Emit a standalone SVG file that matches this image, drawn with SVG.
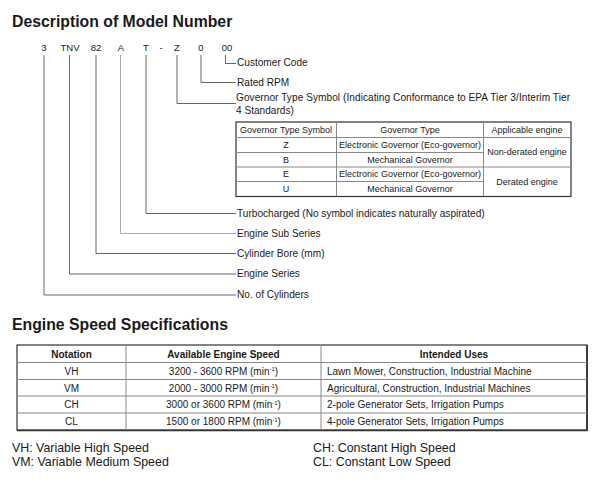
<svg xmlns="http://www.w3.org/2000/svg" width="601" height="498" viewBox="0 0 601 498">
<style>
text{font-family:"Liberation Sans",Arial,Helvetica,sans-serif;fill:#1a1a1a}
.h1{font-size:15.8px;font-weight:bold}
.mn{font-size:9.5px;text-anchor:middle}
.lb{font-size:10.1px}
.t9{font-size:9px}
.t10{font-size:10px}
.c{text-anchor:middle}
.b{font-weight:bold}
.lg{font-size:12.4px}
.ld{fill:none;stroke:#666;stroke-width:1}
.ldl{fill:none;stroke:#aaa;stroke-width:1}
.gl{stroke:#888;stroke-width:1;fill:none}
.ob{stroke:#333;stroke-width:1.2;fill:none}
.sup{font-size:6px}
</style>
<rect width="601" height="498" fill="#fff"/>
<g id="title1"><text class="h1" x="12" y="27">Description of Model Number</text></g>
<g id="model-number">
<text class="mn" x="44" y="50.5">3</text>
<text class="mn" x="70" y="50.5">TNV</text>
<text class="mn" x="96" y="50.5">82</text>
<text class="mn" x="121" y="50.5">A</text>
<text class="mn" x="146" y="50.5">T</text>
<text class="mn" x="161" y="50.5">-</text>
<text class="mn" x="177" y="50.5">Z</text>
<text class="mn" x="201" y="50.5">0</text>
<text class="mn" x="227" y="50.5">00</text>
</g>
<g id="connectors">
<polyline class="ld" points="225.5,55 225.5,63.5 236,63.5"/>
<polyline class="ld" points="201,55 201,82.5 236,82.5"/>
<polyline class="ld" points="177,55 177,103.5 236,103.5"/>
<polyline class="ld" points="146,55 146,213.5 236,213.5"/>
<polyline class="ldl" points="120.5,55 120.5,233.5 236,233.5"/>
<polyline class="ld" points="96,55 96,253.5 236,253.5"/>
<polyline class="ld" points="69.5,55 69.5,274 236,274"/>
<polyline class="ld" points="44,55 44,295 236,295"/>
</g>
<g id="label-customer-code"><text class="lb" x="237" y="66">Customer Code</text></g>
<g id="label-rated-rpm"><text class="lb" x="237" y="85.5">Rated RPM</text></g>
<g id="label-governor"><text class="lb" x="236" y="100.5" textLength="334" lengthAdjust="spacing">Governor Type Symbol (Indicating Conformance to EPA Tier 3/Interim Tier</text><text class="lb" x="236" y="113.5">4 Standards)</text></g>
<g id="governor-table">
<rect class="ob" x="236" y="122" width="335" height="74.5"/>
<line class="gl" x1="236" y1="137.5" x2="571" y2="137.5"/>
<line class="gl" x1="236" y1="152.5" x2="483.5" y2="152.5"/>
<line class="gl" x1="236" y1="167" x2="571" y2="167"/>
<line class="gl" x1="236" y1="181.5" x2="483.5" y2="181.5"/>
<line class="gl" x1="336.5" y1="122" x2="336.5" y2="196.5"/>
<line class="gl" x1="483.5" y1="122" x2="483.5" y2="196.5"/>
<text class="t9 c" x="286" y="132.8">Governor Type Symbol</text>
<text class="t9 c" x="410" y="132.8">Governor Type</text>
<text class="t9 c" x="527" y="132.8">Applicable engine</text>
<text class="t9 c" x="286" y="147.8">Z</text>
<text class="t9 c" x="410" y="147.8">Electronic Governor (Eco-governor)</text>
<text class="t9 c" x="286" y="162.5">B</text>
<text class="t9 c" x="410" y="162.5">Mechanical Governor</text>
<text class="t9 c" x="286" y="177">E</text>
<text class="t9 c" x="410" y="177">Electronic Governor (Eco-governor)</text>
<text class="t9 c" x="286" y="191.5">U</text>
<text class="t9 c" x="410" y="191.5">Mechanical Governor</text>
<text class="t9 c" x="527" y="155">Non-derated engine</text>
<text class="t9 c" x="527" y="184.5">Derated engine</text>
</g>
<g id="label-turbo"><text class="lb" x="237" y="216.5">Turbocharged (No symbol indicates naturally aspirated)</text></g>
<g id="label-sub-series"><text class="lb" x="237" y="236.5">Engine Sub Series</text></g>
<g id="label-bore"><text class="lb" x="237" y="256.5">Cylinder Bore (mm)</text></g>
<g id="label-series"><text class="lb" x="237" y="277">Engine Series</text></g>
<g id="label-cylinders"><text class="lb" x="237" y="298">No. of Cylinders</text></g>
<g id="title2"><text class="h1" x="12" y="329.5">Engine Speed Specifications</text></g>
<g id="speed-table">
<rect class="ob" x="17" y="345" width="570" height="85"/>
<line x1="587" y1="345" x2="587" y2="430.5" stroke="#333" stroke-width="1.8"/>
<line x1="17" y1="430.5" x2="587.5" y2="430.5" stroke="#333" stroke-width="1.6"/>
<line class="gl" x1="17" y1="362.5" x2="587" y2="362.5"/>
<line class="gl" x1="17" y1="379.5" x2="587" y2="379.5"/>
<line class="gl" x1="17" y1="396" x2="587" y2="396"/>
<line class="gl" x1="17" y1="413" x2="587" y2="413"/>
<line class="gl" x1="126" y1="345" x2="126" y2="430"/>
<line class="gl" x1="321" y1="345" x2="321" y2="430"/>
<text class="t10 c b" x="71.5" y="357.5">Notation</text>
<text class="t10 c b" x="223.5" y="357.5">Available Engine Speed</text>
<text class="t10 c b" x="454" y="357.5">Intended Uses</text>
<text class="t10 c" x="71.5" y="374.5">VH</text>
<text class="t10 c" x="223.5" y="374.5">3200 - 3600 RPM (min<tspan class="sup" dy="-3.5">-1</tspan><tspan dy="3.5">)</tspan></text>
<text class="t10" x="327" y="374.5">Lawn Mower, Construction, Industrial Machine</text>
<text class="t10 c" x="71.5" y="391.5">VM</text>
<text class="t10 c" x="223.5" y="391.5">2000 - 3000 RPM (min<tspan class="sup" dy="-3.5">-1</tspan><tspan dy="3.5">)</tspan></text>
<text class="t10" x="327" y="391.5">Agricultural, Construction, Industrial Machines</text>
<text class="t10 c" x="71.5" y="408">CH</text>
<text class="t10 c" x="223.5" y="408">3000 or 3600 RPM (min<tspan class="sup" dy="-3.5">-1</tspan><tspan dy="3.5">)</tspan></text>
<text class="t10" x="327" y="408">2-pole Generator Sets, Irrigation Pumps</text>
<text class="t10 c" x="71.5" y="425">CL</text>
<text class="t10 c" x="223.5" y="425">1500 or 1800 RPM (min<tspan class="sup" dy="-3.5">-1</tspan><tspan dy="3.5">)</tspan></text>
<text class="t10" x="327" y="425">4-pole Generator Sets, Irrigation Pumps</text>
</g>
<g id="legend">
<text class="lg" x="12" y="452">VH: Variable High Speed</text>
<text class="lg" x="12" y="466">VM: Variable Medium Speed</text>
<text class="lg" x="313" y="452">CH: Constant High Speed</text>
<text class="lg" x="313" y="466">CL: Constant Low Speed</text>
</g>
</svg>
